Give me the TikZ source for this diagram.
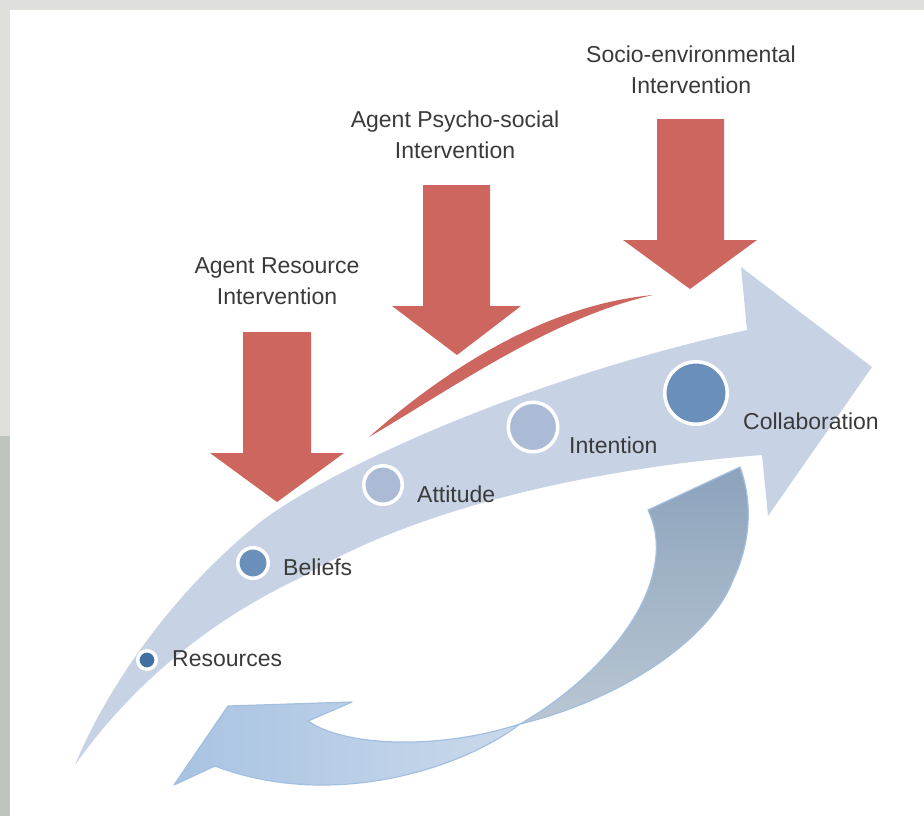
\documentclass[tikz,border=0pt]{standalone}
\usepackage{fontspec}
\setmainfont{Liberation Sans}
\definecolor{bgA}{HTML}{DFE0DC}
\definecolor{bgB}{HTML}{BFC5BE}
\definecolor{band}{HTML}{C7D3E5}
\definecolor{redA}{HTML}{CD665F}
\definecolor{dotA}{HTML}{416F9F}
\definecolor{dotB}{HTML}{6A8FBA}
\definecolor{dotC}{HTML}{ABBBD6}
\definecolor{txt}{HTML}{3A3A3A}
\definecolor{retGrayTop}{HTML}{8CA3BC}
\definecolor{retGrayBot}{HTML}{BAC6D3}
\definecolor{retBlueL}{HTML}{A8C3E2}
\definecolor{retBlueR}{HTML}{CAD9EB}
\definecolor{retEdge}{HTML}{A3BFE0}
\begin{document}
\begin{tikzpicture}[x=1pt,y=-1pt,
  dot/.style={circle, draw=white, line width=3.5pt, inner sep=0pt},
  lbl/.style={text=txt, inner sep=0pt, font=\fontsize{23}{31}\selectfont},
  toplbl/.style={lbl, align=center, anchor=base},
  redarrow/.style={fill=redA},
  retedge/.style={retEdge, line width=1.2pt, line join=round}]
\useasboundingbox (0,0) rectangle (924,816);
% background frame
\fill[bgA] (0,0) rectangle (924,10);
\fill[bgA] (0,0) rectangle (10,436);
\fill[bgB] (0,436) rectangle (10,816);
% main curved arrow
\fill[band] (75,765) .. controls (110,680) and (180,585) .. (263,520)
  .. controls (330,470) and (520,380) .. (747,330)
  -- (741,267) -- (872,367) -- (768,516) -- (762,455)
  .. controls (620,466) and (430,500) .. (300,578)
  .. controls (215,618) and (135,680) .. (75,765) -- cycle;
% return arrow: gray part
\shade[top color=retGrayTop, bottom color=retGrayBot]
  (648,510) -- (740,467) .. controls (752,500) and (752,540) .. (733,580)
  .. controls (710,640) and (620,700) .. (520,724)
  .. controls (580,690) and (640,630) .. (653,573)
  .. controls (660,545) and (655,525) .. (648,510) -- cycle;
% return arrow: blue part
\shade[left color=retBlueL, right color=retBlueR]
  (520,724) .. controls (460,770) and (330,810) .. (215,766)
  -- (174,785) -- (228,706) -- (352,702) -- (308,721)
  .. controls (345,747) and (440,750) .. (520,724) -- cycle;
\draw[retedge]
  (648,510) -- (740,467) .. controls (752,500) and (752,540) .. (733,580)
  .. controls (710,640) and (620,700) .. (520,724)
  .. controls (580,690) and (640,630) .. (653,573)
  .. controls (660,545) and (655,525) .. (648,510) -- cycle;
\draw[retedge]
  (520,724) .. controls (460,770) and (330,810) .. (215,766)
  -- (174,785) -- (228,706) -- (352,702) -- (308,721)
  .. controls (345,747) and (440,750) .. (520,724) -- cycle;
% red swoosh
\fill[redA] (369,437) .. controls (445,370) and (545,305) .. (653,295)
  .. controls (550,318) and (450,390) .. (369,437) -- cycle;
% red intervention arrows
\fill[redarrow] (243,332) -- (311,332) -- (311,453) -- (344,453) -- (277,502) -- (210,453) -- (243,453) -- cycle;
\fill[redarrow] (423,185) -- (490,185) -- (490,306) -- (521,306) -- (457,355) -- (392,306) -- (423,306) -- cycle;
\fill[redarrow] (657,119) -- (724,119) -- (724,240) -- (757,240) -- (690,289) -- (623,240) -- (657,240) -- cycle;
% intervention labels (anchor = baseline of second line)
\node[toplbl] (ari) at (277,304) {Agent Resource\\Intervention};
\node[toplbl] (api) at (455,158) {Agent Psycho-social\\Intervention};
\node[toplbl] (sei) at (691,93) {Socio-environmental\\Intervention};
% stage dots
\node[dot, fill=dotA, minimum size=18.5pt] (res) at (147,660) {};
\node[dot, fill=dotB, minimum size=30.5pt] (bel) at (253,563) {};
\node[dot, fill=dotC, minimum size=38.5pt] (att) at (383,485) {};
\node[dot, fill=dotC, minimum size=49.5pt] (int) at (533,427) {};
\node[dot, fill=dotB, minimum size=62.5pt] (col) at (696,393) {};
% stage labels
\node[lbl, anchor=base west] (resl) at (172,666) {Resources};
\node[lbl, anchor=base west] (bell) at (283,575) {Beliefs};
\node[lbl, anchor=base west] (attl) at (417,502) {Attitude};
\node[lbl, anchor=base west] (intl) at (569,453) {Intention};
\node[lbl, anchor=base west] (coll) at (743,429) {Collaboration};
\end{tikzpicture}
\end{document}
